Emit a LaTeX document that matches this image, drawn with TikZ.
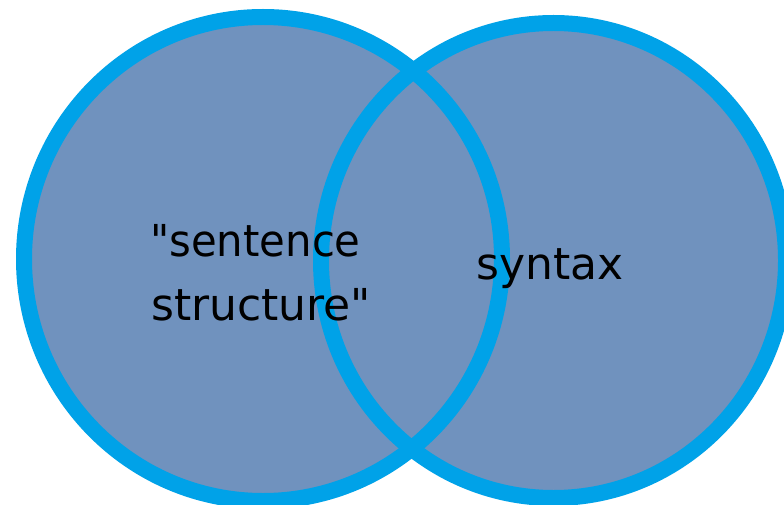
\documentclass[tikz,border=0pt]{standalone}
\usepackage{fontspec}
\newfontfamily\vennfont{DejaVu Sans}
\definecolor{vennfill}{HTML}{7092BE}
\definecolor{vennline}{HTML}{00A2E8}
\tikzset{
  setfill/.style={fill=vennfill, draw=none},
  setline/.style={draw=vennline, line width=16pt},
  label/.style={anchor=base west, inner sep=0pt, text=black, font=\vennfont\fontsize{44}{52}\selectfont}
}
\begin{document}
\begin{tikzpicture}[x=1pt,y=-1pt]
\useasboundingbox (0,0) rectangle (784,505);
\clip (0,0) rectangle (784,505);
\fill[white] (0,0) rectangle (784,505);
\coordinate (cl) at (263,259);
\coordinate (cr) at (553.5,260.5);
\path[setfill] (cl) ellipse [x radius=239, y radius=242];
\path[setfill] (cr) ellipse [x radius=232.5, y radius=237.5];
\path[setline] (cl) ellipse [x radius=239, y radius=242];
\path[setline] (cr) ellipse [x radius=232.5, y radius=237.5];
\node[label, xscale=0.95] (sent1) at (150,256) {"sentence};
\node[label] (sent2) at (151,320) {structure"};
\node[label] (syn) at (476,279) {syntax};
\end{tikzpicture}
\end{document}
